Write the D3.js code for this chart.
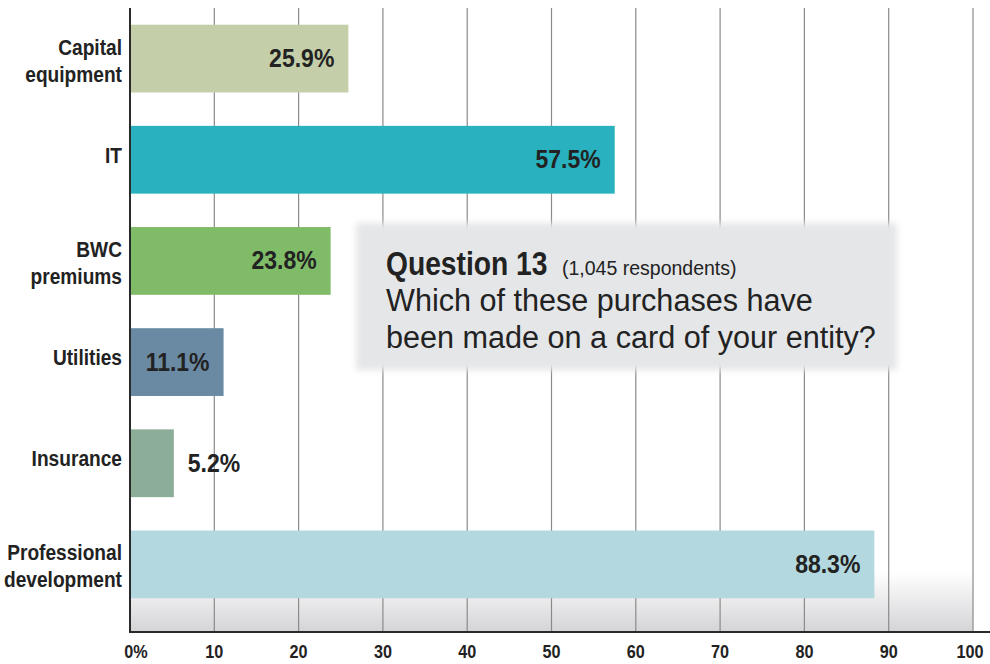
<!DOCTYPE html>
<html><head><meta charset="utf-8">
<script src="https://cdn.jsdelivr.net/npm/d3@7"></script>
<style>
html,body{margin:0;padding:0;background:#fff;}
svg{display:block;}
text{font-family:"Liberation Sans",Arial,Helvetica,sans-serif;}
</style></head>
<body><svg id="c" width="990" height="664"></svg>
<script>
const categories = [["Capital","equipment"],["IT"],["BWC","premiums"],["Utilities"],["Insurance"],["Professional","development"]];
const values = [25.9, 57.5, 23.8, 11.1, 5.2, 88.3];
const colors = ["#c4cfa9","#29b1bf","#80bb68","#6a8aa3","#8cad97","#b3d8e0"];
const ticks = [0,10,20,30,40,50,60,70,80,90,100];
const tickLabels = ["0%","10","20","30","40","50","60","70","80","90","100"];
const keys = categories.map(d=>d.join(" "));

const svg = d3.select("#c");
const x = d3.scaleLinear().domain([0,100]).range([130,973]);
const y = d3.scaleBand().domain(keys).range([8,615]).paddingInner(0.33).paddingOuter(0.165);
const plotTop = 8, plotBottom = 632;
const SX = 0.87; // condensed emulation

const defs = svg.append("defs");
const g1 = defs.append("linearGradient").attr("id","bg").attr("x1",0).attr("y1",0).attr("x2",0).attr("y2",1);
g1.append("stop").attr("offset",0).attr("stop-color","#ffffff");
g1.append("stop").attr("offset",0.3).attr("stop-color","#f2f2f3");
g1.append("stop").attr("offset",1).attr("stop-color","#d4d4d7");
defs.append("filter").attr("id","blur").attr("x","-10%").attr("y","-20%").attr("width","120%").attr("height","140%")
  .append("feGaussianBlur").attr("stdDeviation",3);

// bottom gradient band
svg.append("rect").attr("x",x(0)).attr("y",572).attr("width",x(100)-x(0)).attr("height",plotBottom-572).attr("fill","url(#bg)");

// gridlines
svg.append("g").selectAll("line").data(ticks.slice(1)).join("line")
  .attr("x1",d=>x(d)).attr("x2",d=>x(d)).attr("y1",plotTop).attr("y2",plotBottom)
  .attr("stroke","#8a8a8a").attr("stroke-width",1.2);

// bars
svg.append("g").selectAll("rect").data(values).join("rect")
  .attr("x",x(0)).attr("y",(d,i)=>y(keys[i])).attr("width",d=>x(d)-x(0)).attr("height",y.bandwidth())
  .attr("fill",(d,i)=>colors[i]);

// value labels
svg.append("g").selectAll("text").data(values).join("text")
  .attr("transform",(d,i)=>`translate(${d < 10 ? x(d)+14 : x(d)-14},${y(keys[i])+y.bandwidth()/2+8.5}) scale(0.92,1)`)
  .attr("text-anchor",d=> d<10 ? "start" : "end")
  .attr("font-size",25).attr("font-weight","bold").attr("fill","#222")
  .text(d=>d.toFixed(1)+"%");

// category labels
const cl = svg.append("g").selectAll("text").data(categories).join("text")
  .attr("text-anchor","end").attr("font-size",22).attr("font-weight","bold").attr("fill","#222")
  .attr("transform",(d,i)=>`translate(122,${y(keys[i])+y.bandwidth()/2}) scale(${SX},1)`);
cl.each(function(d){
  const t=d3.select(this);
  if(d.length===1){ t.append("tspan").attr("x",0).attr("y",3).text(d[0]); }
  else { d.forEach((s,j)=>t.append("tspan").attr("x",0).attr("y",j===0?-4:23).text(s)); }
});

// axes lines
svg.append("line").attr("x1",x(0)).attr("x2",x(0)).attr("y1",plotTop).attr("y2",plotBottom+1).attr("stroke","#2a2a2a").attr("stroke-width",2);
svg.append("line").attr("x1",x(0)-1).attr("x2",990).attr("y1",plotBottom).attr("y2",plotBottom).attr("stroke","#2a2a2a").attr("stroke-width",2);

// tick labels
svg.append("g").selectAll("text").data(ticks).join("text")
  .attr("transform",(d,i)=>`translate(${x(d)+(i===0?6:(i===10?-3:0))},658) scale(0.9,1)`).attr("text-anchor","middle")
  .attr("font-size",18).attr("font-weight","bold").attr("fill","#222")
  .text((d,i)=>tickLabels[i]);

// question box
const qb = svg.append("g");
qb.append("rect").attr("x",356).attr("y",223).attr("width",541).attr("height",147).attr("fill","#e5e6e8").attr("filter","url(#blur)");
qb.append("text").attr("transform","translate(386,275) scale(0.83,1)").attr("font-size",34).attr("font-weight","bold").attr("fill","#222").text("Question 13");
qb.append("text").attr("x",562).attr("y",275).attr("font-size",19.5).attr("fill","#222").text("(1,045 respondents)");
qb.append("text").attr("x",386).attr("y",311).attr("font-size",30.6).attr("fill","#222").text("Which of these purchases have");
qb.append("text").attr("x",386).attr("y",348).attr("font-size",30.6).attr("fill","#222").text("been made on a card of your entity?");
</script></body></html>
